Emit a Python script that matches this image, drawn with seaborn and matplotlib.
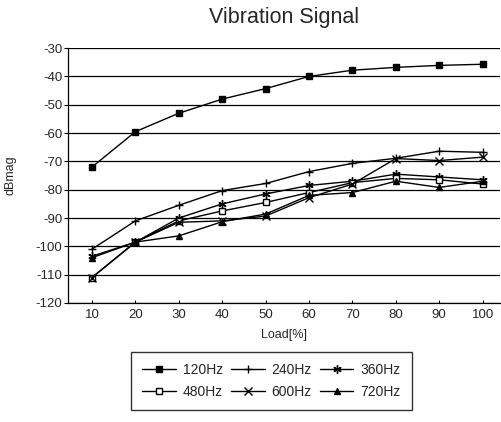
import pandas as pd
import matplotlib
matplotlib.use("Agg")
import matplotlib.pyplot as plt
import seaborn as sns

# data
load = [10, 20, 30, 40, 50, 60, 70, 80, 90, 100]
hz120 = [-72, -59.5, -53, -48, -44.3, -40, -37.8, -36.8, -36.1, -35.7]
hz240 = [-101, -91, -85.5, -80.3, -77.8, -73.6, -70.7, -68.9, -66.4, -66.8]
hz360 = [-103.5, -98.5, -90, -85, -81.5, -78.5, -77, -74.5, -75.5, -76.5]
hz480 = [-111, -98.5, -91, -87.5, -84.5, -81, -77.5, -76, -76.5, -78]
hz600 = [-111, -98.5, -91.5, -91, -89.3, -82.8, -78, -69, -69.7, -68.5]
hz720 = [-104, -98.5, -96.3, -91.3, -88.6, -82, -81, -77, -79.2, -77]
series_names = ["120Hz", "240Hz", "360Hz", "480Hz", "600Hz", "720Hz"]

df = pd.DataFrame({
    "Load": load * 6,
    "dBmag": hz120 + hz240 + hz360 + hz480 + hz600 + hz720,
    "Series": [s for s in series_names for _ in load],
})

sns.set_theme(style="white")
plt.rcParams["font.family"] = ["Liberation Sans", "DejaVu Sans"]
plt.rcParams["axes.unicode_minus"] = False

fig = plt.figure(figsize=(5.01, 4.22), dpi=100)
ax = fig.add_axes([0.136, 0.282, 0.862, 0.604])

# marker, size, face colour per series
marker_style = {
    "120Hz": ("s", 5, "black"),
    "240Hz": ("+", 6, "black"),
    "360Hz": ((6, 2, 0), 6, "black"),
    "480Hz": ("s", 4.5, "white"),
    "600Hz": ("x", 5.5, "black"),
    "720Hz": ("^", 5, "black"),
}

handles = {}
for s in series_names:
    mk, ms, fc = marker_style[s]
    sns.lineplot(data=df[df["Series"] == s], x="Load", y="dBmag",
                 color="black", linewidth=1.0, marker=mk, markersize=ms,
                 markerfacecolor=fc, markeredgecolor="black",
                 markeredgewidth=1.0, ax=ax, legend=False)
    h, = ax.plot([], [], color="black", linewidth=1.0, marker=mk,
                 markersize=ms, markerfacecolor=fc, markeredgecolor="black",
                 markeredgewidth=1.0, label=s)
    handles[s] = h

ax.set_xlim(4.5, 104)
ax.set_ylim(-120, -30)
ax.set_xticks(load)
ax.set_yticks(range(-120, -29, 10))
ax.yaxis.grid(True, color="black", linewidth=0.9)
ax.set_axisbelow(True)
for side in ["top", "right"]:
    ax.spines[side].set_visible(False)
ax.spines["left"].set_color("black")
ax.spines["bottom"].set_color("black")
ax.spines["left"].set_linewidth(0.9)
ax.spines["bottom"].set_linewidth(0.9)
ax.tick_params(axis="y", left=True, length=3, width=0.8, color="black",
               labelsize=9.5, pad=1)
ax.tick_params(axis="x", bottom=True, direction="in", length=2, width=0.8,
               color="black", labelsize=9.5, pad=4)

ax.set_title("Vibration Signal", fontsize=15.5, pad=18, x=0.5)
ax.set_xlabel("Load[%]", fontsize=9, labelpad=6)
ax.set_ylabel("dBmag", fontsize=9, labelpad=14)

# legend fills column by column, so order entries to read row-wise
order = ["120Hz", "480Hz", "240Hz", "600Hz", "360Hz", "720Hz"]
fig.legend(handles=[handles[s] for s in order], labels=order, ncol=3,
           loc="upper center", bbox_to_anchor=(0.542, 0.183),
           frameon=True, fontsize=10, fancybox=False, edgecolor="black",
           handlelength=2.4, columnspacing=0.6, handletextpad=0.5,
           borderpad=0.8, labelspacing=0.6)

fig.savefig("out.png", dpi=100, facecolor="white")
